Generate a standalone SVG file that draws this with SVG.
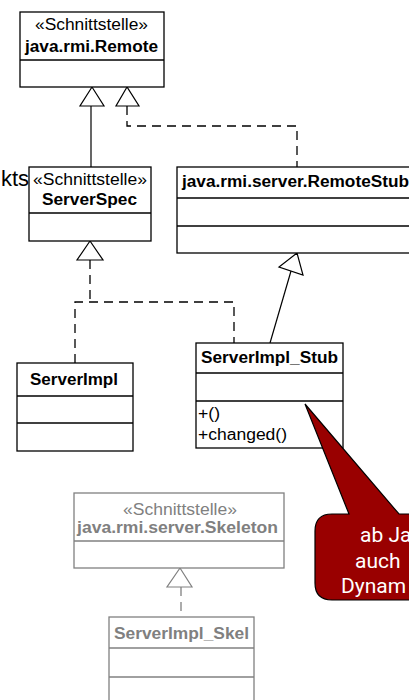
<svg xmlns="http://www.w3.org/2000/svg" width="409" height="700" viewBox="0 0 409 700">
<style>
.box{fill:#fff;stroke:#000;stroke-width:1.3}
.div{stroke:#000;stroke-width:1.3}
.gbox{fill:#fff;stroke:#808080;stroke-width:1.3}
.gdiv{stroke:#808080;stroke-width:1.3}
.t{font-family:"Liberation Sans",Arial,sans-serif;font-size:16px;fill:#000}
.b{font-weight:bold}
.g{fill:#808080}
.c{text-anchor:middle}
.ln{fill:none;stroke:#000;stroke-width:1.2}
.dash{fill:none;stroke:#000;stroke-width:1.3;stroke-dasharray:9 6}
.gdash{fill:none;stroke:#808080;stroke-width:1.3;stroke-dasharray:9 6}
.tri{fill:#fff;stroke:#000;stroke-width:1.2}
.gtri{fill:#fff;stroke:#808080;stroke-width:1.2}
.ct{font-family:Roboto,"Liberation Sans",sans-serif;font-size:21px;fill:#fff}
</style>
<rect width="409" height="700" fill="#fff"/>
<text class="t" x="29" y="186" style="font-size:22px;text-anchor:end">kts</text>
<g id="connectors">
<path class="ln" d="M91,106 V167"/>
<path class="dash" d="M127,106 V126 H297 V167"/>
<path class="dash" d="M90,260 V302"/>
<path class="dash" d="M75,363 V302 H234 V343"/>
<path class="ln" d="M291,271 L270,343"/>
<path class="gdash" d="M181,587 V617"/>
<polygon class="tri" points="92,87 80,106 104,106"/>
<polygon class="tri" points="127,87 116,106 139,106"/>
<polygon class="tri" points="90,241 77,260 103,260"/>
<polygon class="tri" points="297,253 279,267 303,275"/>
<polygon class="gtri" points="180,568 167,587 192,587"/>
</g>
<g id="remote">
<rect class="box" x="20" y="12" width="144" height="75"/>
<line class="div" x1="20" y1="60" x2="164" y2="60"/>
<text class="t c" x="91.5" y="30" textLength="113" lengthAdjust="spacingAndGlyphs">«Schnittstelle»</text>
<text class="t b c" x="91.5" y="52" textLength="133" lengthAdjust="spacingAndGlyphs">java.rmi.Remote</text>
</g>
<g id="serverspec">
<rect class="box" x="29" y="167" width="122" height="74"/>
<line class="div" x1="29" y1="213" x2="151" y2="213"/>
<text class="t c" x="90" y="185" textLength="114" lengthAdjust="spacingAndGlyphs">«Schnittstelle»</text>
<text class="t b c" x="89.5" y="205" textLength="95" lengthAdjust="spacingAndGlyphs">ServerSpec</text>
</g>
<g id="remotestub">
<rect class="box" x="177" y="167" width="250" height="86"/>
<line class="div" x1="177" y1="198" x2="427" y2="198"/>
<line class="div" x1="177" y1="226" x2="427" y2="226"/>
<text class="t b" x="182" y="187" textLength="227" lengthAdjust="spacingAndGlyphs">java.rmi.server.RemoteStub</text>
</g>
<g id="serverimpl">
<rect class="box" x="17" y="363" width="116" height="88"/>
<line class="div" x1="17" y1="396" x2="133" y2="396"/>
<line class="div" x1="17" y1="423" x2="133" y2="423"/>
<text class="t b c" x="74" y="385" textLength="88" lengthAdjust="spacingAndGlyphs">ServerImpl</text>
</g>
<g id="serverimpl_stub">
<rect class="box" x="196" y="343" width="147" height="105"/>
<line class="div" x1="196" y1="373" x2="343" y2="373"/>
<line class="div" x1="196" y1="401" x2="343" y2="401"/>
<text class="t b c" x="269.5" y="363" textLength="137" lengthAdjust="spacingAndGlyphs">ServerImpl_Stub</text>
<text class="t" x="198" y="419" textLength="22" lengthAdjust="spacingAndGlyphs">+()</text>
<text class="t" x="198" y="440" textLength="89" lengthAdjust="spacingAndGlyphs">+changed()</text>
</g>
<g id="skeleton">
<rect class="gbox" x="74" y="493" width="210" height="75"/>
<line class="gdiv" x1="74" y1="541" x2="284" y2="541"/>
<text class="t g c" x="180" y="515" textLength="114" lengthAdjust="spacingAndGlyphs">«Schnittstelle»</text>
<text class="t b g c" x="177.5" y="533" textLength="201" lengthAdjust="spacingAndGlyphs">java.rmi.server.Skeleton</text>
</g>
<g id="serverimpl_skel">
<rect class="gbox" x="109" y="617" width="145" height="100"/>
<line class="gdiv" x1="109" y1="648" x2="254" y2="648"/>
<line class="gdiv" x1="109" y1="677" x2="254" y2="677"/>
<text class="t b g c" x="181.5" y="639" textLength="135" lengthAdjust="spacingAndGlyphs">ServerImpl_Skel</text>
</g>
<g id="callout">
<path d="M332,514 L349,514 L305,404 L399,514 L430,514 L430,600 L332,600 Q315,600 315,583 L315,531 Q315,514 332,514 Z" fill="#990000" stroke="#000" stroke-width="1.2"/>
<text class="ct" x="360" y="542">ab Ja</text>
<text class="ct" x="355" y="568">auch</text>
<text class="ct" x="341" y="593">Dynam</text>
</g>
</svg>
